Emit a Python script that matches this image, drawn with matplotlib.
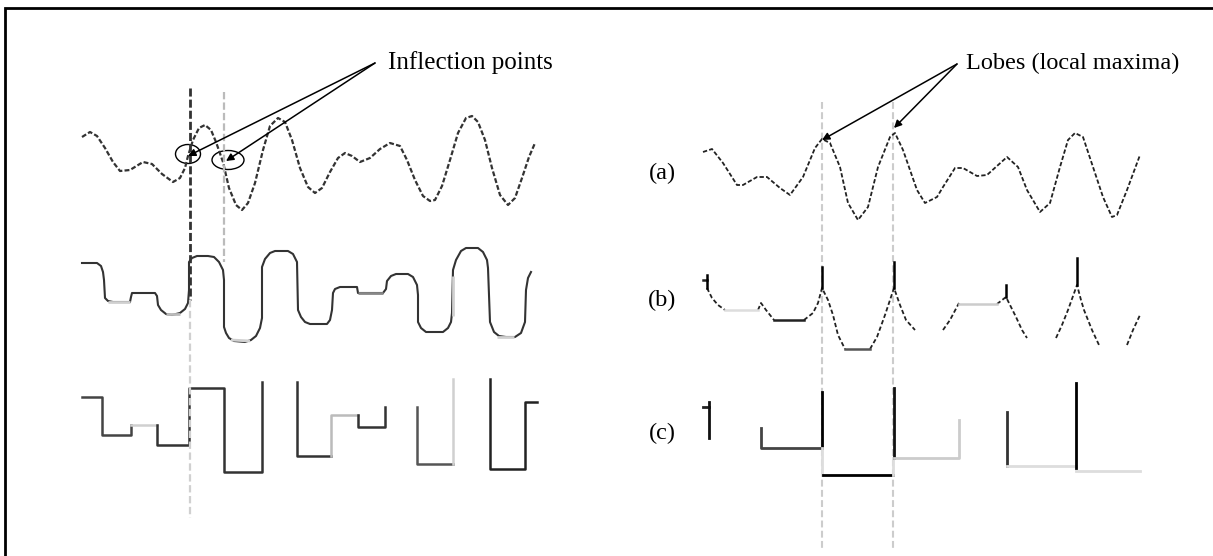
import matplotlib.pyplot as plt
from matplotlib.patches import Ellipse

plt.rcParams['font.family'] = ['Liberation Serif', 'DejaVu Serif']

# ---- left panel: inflection points ----
# top wave (dotted look)
wl1_x = [82, 90, 97, 105, 113, 120, 130, 143, 152, 162, 173, 180, 185, 188, 193, 199, 205, 211, 216, 223, 229, 236, 242, 248, 255, 263, 270, 278, 285, 292, 300, 308, 315, 322, 330, 338, 345, 352, 360, 370, 380, 390, 400, 407, 415, 423, 430, 435, 442, 450, 458, 466, 472, 478, 485, 492, 500, 508, 515, 522, 529, 535]
wl1_y = [137, 132, 136, 148, 162, 171, 170, 162, 164, 174, 182, 178, 168, 156, 140, 128, 125, 130, 142, 162, 188, 205, 210, 203, 183, 150, 126, 118, 122, 140, 168, 187, 193, 188, 172, 158, 153, 156, 162, 158, 149, 143, 146, 160, 180, 196, 201, 200, 186, 160, 133, 118, 116, 122, 140, 168, 195, 205, 198, 178, 157, 143]

# middle wave (rounded steps)
wl2_x = [82, 97, 101, 103, 104, 105, 108, 113, 130, 131, 132, 155, 157, 158, 161, 166, 172, 180, 185, 188, 189, 189, 192, 197, 208, 214, 219, 223, 224, 224, 226, 229, 234, 245, 251, 256, 260, 262, 262, 265, 270, 275, 288, 293, 297, 298, 301, 305, 310, 327, 330, 332, 333, 335, 340, 357, 358, 383, 386, 387, 391, 396, 408, 413, 417, 418, 418, 421, 426, 443, 448, 451, 452, 453, 456, 461, 466, 478, 483, 487, 488, 490, 494, 499, 506, 515, 521, 525, 526, 528, 531]
wl2_y = [263, 263, 266, 272, 280, 298, 301, 302, 302, 297, 293, 293, 296, 305, 310, 314, 315, 313, 309, 303, 290, 262, 258, 256, 256, 257, 262, 270, 280, 327, 333, 338, 341, 342, 340, 336, 328, 318, 267, 259, 253, 251, 251, 254, 262, 310, 317, 322, 324, 324, 320, 310, 293, 289, 287, 287, 293, 293, 289, 281, 276, 274, 274, 277, 285, 295, 322, 328, 332, 332, 328, 322, 313, 270, 260, 251, 248, 248, 252, 260, 268, 322, 332, 336, 337, 337, 333, 322, 290, 278, 272]
# lighter pieces of the middle wave
wl2_light = [
    ([108, 130], [302, 302], '#d0d0d0'),
    ([166, 180], [314, 314], '#bbbbbb'),
    ([231, 250], [340, 341], '#d0d0d0'),
    ([358, 383], [293, 293], '#888888'),
    ([453, 453], [276, 316], '#d0d0d0'),
    ([497, 514], [337, 337], '#d0d0d0'),
]

# bottom wave (square steps)
wl3_parts = [
    ([82, 102, 102, 131, 131], [397, 397, 435, 435, 425], '#444444'),
    ([131, 157], [425, 425], '#d0d0d0'),
    ([157, 157, 189, 189, 224, 224, 262, 262], [425, 445, 445, 388, 388, 472, 472, 382], '#333333'),
    ([297, 297, 331], [382, 456, 456], '#333333'),
    ([331, 331, 358], [456, 415, 415], '#bbbbbb'),
    ([358, 358, 385, 385], [415, 427, 427, 407], '#333333'),
    ([417, 417, 453], [407, 464, 464], '#555555'),
    ([453, 453], [464, 379], '#d0d0d0'),
    ([490, 490, 525, 525, 537], [379, 469, 469, 402, 402], '#222222'),
]

# ---- right panel: lobes ----
wa_x = [703, 712, 723, 737, 743, 757, 767, 780, 790, 803, 815, 822, 830, 840, 848, 858, 868, 878, 890, 895, 903, 917, 925, 937, 943, 955, 963, 977, 987, 1007, 1018, 1027, 1040, 1050, 1060, 1068, 1075, 1083, 1093, 1103, 1112, 1117, 1127, 1140]
wa_y = [152, 149, 163, 185, 185, 177, 177, 188, 195, 177, 148, 139, 143, 167, 203, 220, 207, 167, 137, 133, 150, 190, 203, 197, 187, 168, 168, 176, 175, 157, 167, 190, 212, 203, 167, 140, 133, 137, 167, 197, 217, 215, 190, 155]

wb_curves = [
    ([707, 712, 718, 725], [288, 298, 305, 310]),
    ([758, 761, 766, 774], [310, 303, 310, 320]),
    ([804, 813, 818, 822, 828, 833, 838, 845], [320, 313, 303, 288, 300, 315, 335, 349]),
    ([870, 877, 885, 894, 900, 906, 915], [349, 337, 315, 288, 305, 320, 330]),
    ([943, 950, 959], [330, 320, 303]),
    ([997, 1006, 1011, 1016, 1022, 1027], [304, 297, 307, 317, 330, 338]),
    ([1056, 1062, 1068, 1077, 1081, 1084, 1092, 1099], [338, 325, 310, 285, 300, 310, 330, 345]),
    ([1127, 1133, 1140], [345, 330, 315]),
]
wb_flats = [
    ([703, 707], [280, 280], '#222222'),
    ([725, 758], [310, 310], '#dddddd'),
    ([774, 804], [320, 320], '#222222'),
    ([845, 870], [349, 349], '#555555'),
    ([959, 997], [304, 304], '#cccccc'),
]
wb_spikes = [
    ([707, 707], [275, 288]),
    ([822, 822], [267, 288]),
    ([894, 894], [262, 288]),
    ([1006, 1006], [285, 297]),
    ([1077, 1077], [258, 285]),
]

wc_parts = [
    ([703, 709], [407, 407], '#222222'),
    ([709, 709], [402, 438], '#111111'),
    ([761, 761, 822], [428, 448, 448], '#444444'),
    ([822, 822], [392, 448], '#000000'),
    ([822, 822], [448, 475], '#dddddd'),
    ([823, 893], [475, 475], '#000000'),
    ([893, 893], [475, 458], '#dddddd'),
    ([894, 894], [388, 458], '#111111'),
    ([894, 959, 959], [458, 458, 420], '#cccccc'),
    ([1007, 1007], [412, 466], '#333333'),
    ([1007, 1076], [466, 466], '#dddddd'),
    ([1076, 1076], [383, 468], '#000000'),
    ([1076, 1140], [471, 471], '#dddddd'),
]

row_labels = ['(a)', '(b)', '(c)']
row_label_y = [173, 300, 433]

fig = plt.figure(figsize=(12.13, 5.56), dpi=100)
ax = fig.add_axes([0, 0, 1, 1])
ax.set_xlim(0, 1213)
ax.set_ylim(556, 0)
ax.axis('off')

# frame (only top and left visible)
ax.plot([5, 5, 1213], [556, 8, 8], color='black', lw=2, solid_joinstyle='miter')

# left panel
ax.plot(wl1_x, wl1_y, color='#333333', lw=1.6, ls=(0, (2.2, 1.0)))
ax.plot(wl2_x, wl2_y, color='#333333', lw=1.5)
for xs, ys, c in wl2_light:
    ax.plot(xs, ys, color=c, lw=2.0, solid_capstyle='butt')
for xs, ys, c in wl3_parts:
    ax.plot(xs, ys, color=c, lw=1.8)

# vertical guides left
ax.plot([190, 190], [88, 300], color='#333333', lw=2, ls=(0, (2.9, 1.1)))
ax.plot([190, 190], [300, 518], color='#d0d0d0', lw=1.6, ls=(0, (3.3, 1.6)))
ax.plot([224, 224], [92, 262], color='#bbbbbb', lw=1.6, ls=(0, (3.3, 1.4)))

ax.add_patch(Ellipse((188, 154), 25, 19, fill=False, lw=1, ec='black'))
ax.add_patch(Ellipse((228, 160), 32, 19, fill=False, lw=1, ec='black'))

for tx, ty in [(188, 156), (226, 161)]:
    ax.annotate('', xy=(tx, ty), xytext=(375, 63),
                arrowprops=dict(arrowstyle='-|>', color='black', lw=1.1,
                                mutation_scale=11, shrinkA=0, shrinkB=0))
ax.text(388, 63, 'Inflection points', fontsize=18, va='center', ha='left')

# right panel
ax.plot([822, 822], [102, 548], color='#cccccc', lw=1.5, ls=(0, (3.3, 1.6)))
ax.plot([893, 893], [102, 548], color='#cccccc', lw=1.5, ls=(0, (3.3, 1.6)))

ax.plot(wa_x, wa_y, color='#222222', lw=1.3, ls=(0, (2.4, 1.2)))
for xs, ys in wb_curves:
    ax.plot(xs, ys, color='#222222', lw=1.3, ls=(0, (2.4, 1.4)))
for xs, ys, c in wb_flats:
    ax.plot(xs, ys, color=c, lw=1.8)
for xs, ys in wb_spikes:
    ax.plot(xs, ys, color='black', lw=1.8)
for xs, ys, c in wc_parts:
    ax.plot(xs, ys, color=c, lw=2.0)

for tx, ty in [(822, 140), (894, 128)]:
    ax.annotate('', xy=(tx, ty), xytext=(957, 64),
                arrowprops=dict(arrowstyle='-|>', color='black', lw=1.1,
                                mutation_scale=11, shrinkA=0, shrinkB=0))
ax.text(966, 63, 'Lobes (local maxima)', fontsize=17.5, va='center', ha='left')

for lab, ly in zip(row_labels, row_label_y):
    ax.text(662, ly, lab, fontsize=17.5, va='center', ha='center')

fig.savefig('out.png', dpi=100)
